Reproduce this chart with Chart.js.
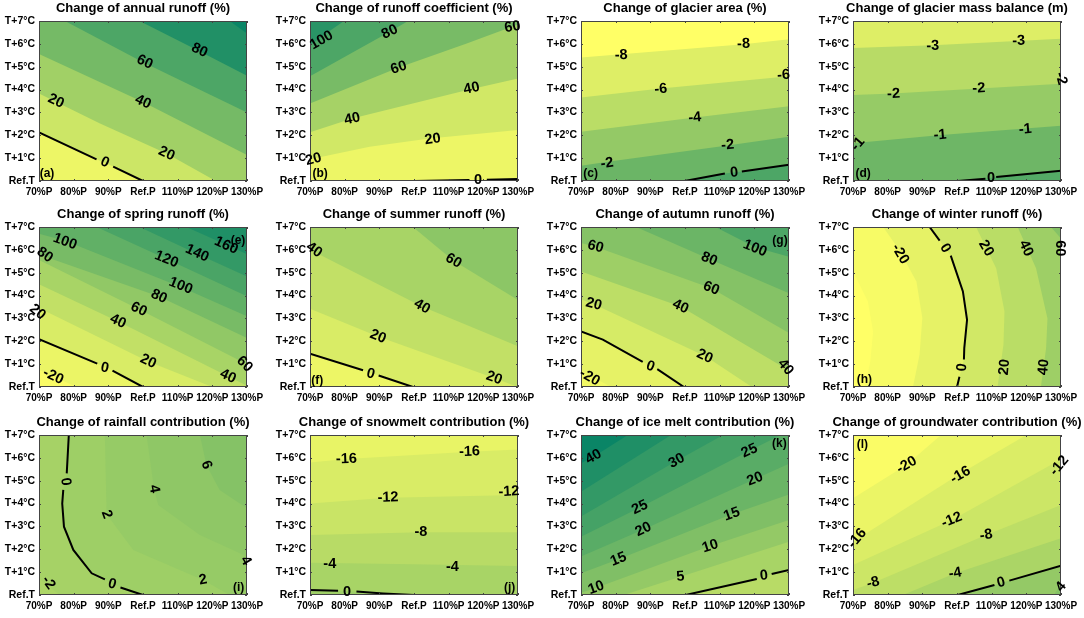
<!DOCTYPE html>
<html>
<head>
<meta charset="utf-8">
<script src="https://cdn.jsdelivr.net/npm/chart.js@4"></script>
<style>
  body { margin: 0; background: #fff; }
  canvas { position: absolute; }
</style>
</head>
<body>
<script>
const xTickLabels = ["70%P", "80%P", "90%P", "Ref.P", "110%P", "120%P", "130%P"];
const yTickLabels = ["Ref.T", "T+1°C", "T+2°C", "T+3°C", "T+4°C", "T+5°C", "T+6°C", "T+7°C"];

const titles = [
  "Change of annual runoff (%)", "Change of runoff coefficient (%)", "Change of glacier area (%)", "Change of glacier mass balance (m)",
  "Change of spring runoff (%)", "Change of summer runoff (%)", "Change of autumn runoff (%)", "Change of winter runoff (%)",
  "Change of rainfall contribution (%)", "Change of snowmelt contribution (%)", "Change of ice melt contribution (%)", "Change of groundwater contribution (%)"
];

// contour levels per panel, and each contour as [precip tick index, temp step]
// null = gap in the black zero line where its label sits
const annualLevels = [0, 20, 40, 60, 80, 100];
const annualLines = [
  [[0, 2.13], [1.66, 0.95], null, [2.14, 0.63], [3, 0]],
  [[0, 3.83], [1.76, 2.52], [3.68, 1.2], [5.1, 0]],
  [[0, 5.56], [3, 3.46], [6, 1.14]],
  [[0.75, 7], [3, 5.2], [6, 3]],
  [[2.9, 7], [4.6, 5.7], [6, 4.6]],
  [[5.5, 7], [6, 6.45]]
];
const annualLabels = [[0, 1.9, 0.82], [20, 0.49, 3.5], [20, 3.68, 1.2], [40, 3, 3.46], [60, 3.05, 5.2], [80, 4.63, 5.72]];

const coeffLevels = [0, 20, 40, 60, 80, 100];
const coeffLines = [
  [[3, 0], [4.6, 0.04], null, [5.1, 0.06], [6, 0.09]],
  [[0, 0.95], [1.72, 1.5], [3.44, 1.86], [6, 2.23]],
  [[0, 2.13], [1.24, 2.74], [4.6, 4], [6, 4.48]],
  [[0, 3.39], [2.54, 4.95], [4.5, 6], [6, 6.85]],
  [[0, 4.58], [2.3, 6.53], [2.83, 7]],
  [[0, 5.94], [0.38, 6.37], [0.98, 7]]
];
const coeffLabels = [[100, 0.33, 6.16], [80, 2.3, 6.52], [60, 2.56, 4.96], [60, 5.84, 6.74], [40, 1.22, 2.72], [40, 4.66, 4.05], [20, 3.54, 1.83], [20, 0.1, 0.95], [0, 4.85, 0.04]];

const areaLevels = [0, -2, -4, -6, -8];
const areaLines = [
  [[2.99, 0], [4.15, 0.33], null, [4.64, 0.42], [6, 0.71]],
  [[0, 0.67], [0.77, 0.84], [4.17, 1.54], [6, 1.94]],
  [[0, 2.15], [3.28, 2.78], [6, 3.27]],
  [[0, 3.65], [2.3, 4.05], [6, 4.58]],
  [[0, 5.4], [1.16, 5.55], [4.69, 5.98], [6, 6.2]]
];
const areaLabels = [[-8, 1.16, 5.5], [-8, 4.69, 6], [-6, 2.3, 4.02], [-6, 5.84, 4.63], [-4, 3.28, 2.77], [-2, 4.23, 1.57], [-2, 0.75, 0.77], [0, 4.42, 0.36]];

const massLevels = [0, -1, -2, -3];
const massLines = [
  [[3.02, 0], [3.82, 0.1], null, [4.13, 0.17], [6, 0.45]],
  [[0, 1.65], [2.54, 2.01], [6, 2.42]],
  [[0, 3.76], [1.15, 3.83], [3.65, 4.05], [6, 4.26]],
  [[0, 5.82], [2.3, 5.94], [6, 6.22]]
];
const massLabels = [[-3, 2.3, 5.91], [-3, 4.78, 6.13], [-2, 1.17, 3.81], [-2, 3.63, 4.05], [-2, 6, 4.48], [-1, 2.51, 2.01], [-1, 4.97, 2.26], [-1, 0.14, 1.62], [0, 3.98, 0.15]];

const springLevels = [-20, 0, 20, 40, 60, 80, 100, 120, 140, 160];
const springLines = [
  [[0, 0.76], [1.08, 0]],
  [[0, 2.09], [1.68, 1.02], null, [2.12, 0.72], [3, 0]],
  [[0, 3.46], [3.15, 1.12], [5, 0]],
  [[0, 4.5], [2.28, 2.87], [5.45, 0.47], [6, 0.05]],
  [[0, 5.56], [2.88, 3.4], [6, 1]],
  [[0, 5.8], [3.46, 3.96], [6, 2.14]],
  [[0, 6.7], [0.75, 6.4], [4.09, 4.37], [6, 3.09]],
  [[1.66, 7], [3.68, 5.6], [6, 3.97]],
  [[2.9, 7], [4.54, 5.84], [6, 4.83]],
  [[4.25, 7], [5.4, 6.22], [6, 5.81]]
];
const springLabels = [[100, 0.75, 6.36], [80, 0.17, 5.78], [20, -0.04, 3.28], [-20, 0.41, 0.47], [0, 1.9, 0.83], [20, 3.15, 1.12], [40, 2.28, 2.87], [60, 2.88, 3.4], [80, 3.46, 3.96], [100, 4.09, 4.43], [120, 3.68, 5.59], [140, 4.56, 5.85], [160, 5.4, 6.19], [40, 5.45, 0.47], [60, 5.93, 1]];

const summerLevels = [0, 20, 40, 60];
const summerLines = [
  [[0, 1.46], [1.53, 0.73], null, [1.98, 0.5], [2.97, 0]],
  [[0, 3.42], [1.96, 2.21], [5.31, 0.39], [6, 0]],
  [[0, 6], [3.23, 3.52], [6, 1.78]],
  [[2.97, 7], [4.14, 5.52], [6, 3.81]]
];
const summerLabels = [[40, 0.12, 6], [60, 4.14, 5.52], [40, 3.23, 3.52], [20, 1.96, 2.21], [0, 1.75, 0.57], [20, 5.31, 0.39]];

const autumnLevels = [-20, 0, 20, 40, 60, 80, 100];
const autumnLines = [
  [[0, 0.73], [0.39, 0.39], [0.87, 0]],
  [[0, 2.43], [0.63, 2.07], [1.78, 1.1], null, [2.2, 0.78], [2.97, 0]],
  [[0, 3.84], [0.37, 3.62], [3.59, 1.34], [4.93, 0]],
  [[0, 5.05], [2.87, 3.52], [4.74, 1.85], [5.88, 0.83], [6, 0.6]],
  [[0, 6.3], [0.42, 6.14], [3.76, 4.32], [6, 2.36]],
  [[1.59, 7], [3.7, 5.6], [6, 4.1]],
  [[3.88, 7], [5.02, 6.11], [6, 5.7]]
];
const autumnLabels = [[60, 0.42, 6.14], [100, 5.02, 6.07], [80, 3.7, 5.6], [60, 3.76, 4.32], [40, 2.87, 3.52], [20, 0.37, 3.62], [20, 3.57, 1.34], [0, 2, 0.9], [-20, 0.25, 0.42], [40, 5.9, 0.87]];

const winterLevels = [-40, -20, 0, 20, 40, 60];
const winterLines = [
  [[0, 5.05], [0.43, 3.74], [0.58, 2.43], [0.5, 1.12], [0.34, 0]],
  [[0.87, 7], [1.33, 6], [1.83, 4.62], [2, 3.02], [1.92, 1.42], [1.73, 0]],
  [[2.21, 7], [2.5, 6.4], null, [2.82, 5.75], [3.17, 4.18], [3.29, 2.94], [3.21, 1.7], [3.2, 1.2], null, [3.07, 0.45], [3, 0]],
  [[3.55, 7], [4.13, 5.2], [4.37, 3.3], [4.34, 1.85], [4.17, 0]],
  [[4.75, 7], [5.28, 5.2], [5.61, 3], [5.57, 1.7], [5.42, 0]],
  [[5.71, 7], [6, 6.5]]
];
const winterLabels = [[-20, 1.36, 5.82], [0, 2.66, 6.07], [20, 3.84, 6.07], [40, 4.99, 6.07], [60, 5.98, 6.07], [0, 3.15, 0.86], [20, 4.37, 0.87], [40, 5.5, 0.87]];

const rainLevels = [-2, 0, 2, 4, 6];
const rainLines = [
  [[0, 0.73], [0.6, 0]],
  [[0.86, 7], [0.8, 5.32], null, [0.7, 4.6], [0.67, 4], [0.72, 2.99], [0.99, 1.97], [1.52, 0.95], [1.9, 0.68], null, [2.35, 0.33], [3, 0]],
  [[1.9, 7], [1.95, 3.53], [2.72, 1.97], [4.73, 0.66], [5.5, 0]],
  [[3.1, 7], [3.32, 4.64], [3.44, 3.94], [4.64, 2.62], [6, 1.68]],
  [[4.64, 7], [4.83, 5.69], [5.21, 4.59], [6, 3.79]]
];
const rainLabels = [[0, 0.77, 4.96], [0, 2.11, 0.47], [2, 1.95, 3.53], [4, 3.32, 4.64], [6, 4.83, 5.69], [4, 5.96, 1.5], [2, 4.73, 0.66], [-2, 0.27, 0.54]];

const snowLevels = [0, -4, -8, -12, -16];
const snowLines = [
  [[0, 0.22], [0.81, 0.19], null, [1.34, 0.15], [2.11, 0.07], [3.01, 0]],
  [[0, 1.41], [3, 1.35], [6, 1.27]],
  [[0, 2.62], [3.2, 2.74], [6, 2.74]],
  [[0, 4], [2.25, 4.26], [6, 4.37]],
  [[0, 5.8], [1.05, 5.95], [4.6, 6.27], [6, 6.37]]
];
const snowLabels = [[-16, 1.05, 5.95], [-16, 4.6, 6.27], [-12, 2.25, 4.26], [-12, 5.74, 4.52], [-8, 3.2, 2.74], [-4, 0.57, 1.36], [-4, 4.11, 1.24], [0, 1.07, 0.15]];

const iceLevels = [0, 5, 10, 15, 20, 25, 30, 35, 40];
const iceLines = [
  [[3.02, 0], [5.07, 0.7], null, [5.5, 0.92], [6, 1.09]],
  [[1.23, 0], [2.87, 0.8], [6, 2.33]],
  [[0, 0.1], [0.44, 0.32], [3.73, 2.14], [6, 3.28]],
  [[0, 0.95], [1.08, 1.56], [4.35, 3.53], [6, 4.4]],
  [[0, 1.68], [1.8, 2.87], [5.02, 5.07], [6, 5.74]],
  [[0, 2.55], [1.7, 3.83], [4.86, 6.31], [5.76, 7]],
  [[0, 3.43], [2.76, 5.87], [4.1, 7]],
  [[0, 4.52], [2.6, 7]],
  [[0, 5.76], [0.36, 6.05], [1.35, 7]]
];
const iceLabels = [[40, 0.36, 6.05], [30, 2.76, 5.87], [25, 1.7, 3.83], [20, 1.8, 2.87], [15, 1.08, 1.56], [10, 0.44, 0.32], [25, 4.86, 6.31], [20, 5.02, 5.07], [15, 4.35, 3.53], [10, 3.73, 2.14], [5, 2.87, 0.8], [0, 5.28, 0.85]];

const groundLevels = [4, 0, -4, -8, -12, -16, -20];
const groundLines = [
  [[5.8, 0], [6, 0.5]],
  [[3.02, 0], [4.08, 0.44], null, [4.51, 0.63], [6, 1.28]],
  [[1.44, 0], [2.95, 0.95], [6, 2.48]],
  [[0, 0.22], [0.58, 0.54], [3.84, 2.62], [6, 3.94]],
  [[0, 1.31], [2.85, 3.28], [5.95, 5.9], [6, 5.95]],
  [[0, 2.33], [3.1, 5.32], [5, 7]],
  [[0, 4.23], [1.54, 5.69], [2.54, 7]]
];
const groundLabels = [[-20, 1.55, 5.69], [-16, 3.1, 5.25], [-12, 5.95, 5.66], [-12, 2.85, 3.28], [-8, 3.84, 2.62], [-8, 0.58, 0.54], [-16, 0.12, 2.48], [-4, 2.95, 0.95], [0, 4.27, 0.54], [4, 6, 0.36]];

// panel layout and look, kept away from the data above
const plotCols = [39, 310, 581, 853];
const plotRows = [21, 227, 435];
const plotW = 208, plotH = 160, axisW = 39, axisH = 18;
const fontName = '"Liberation Sans", Arial, sans-serif';

// position along the summer colormap per band, first = below the first contour
const tones = [
  [0.93, 0.8, 0.63, 0.46, 0.3, 0.13, 0.04],
  [0.97, 0.93, 0.82, 0.65, 0.47, 0.3, 0.16],
  [0.3, 0.42, 0.58, 0.73, 0.87, 1],
  [0.33, 0.43, 0.59, 0.72, 0.87],
  [0.98, 0.92, 0.85, 0.76, 0.66, 0.57, 0.47, 0.38, 0.29, 0.2, 0.12],
  [0.93, 0.85, 0.76, 0.66, 0.55],
  [0.95, 0.9, 0.84, 0.74, 0.62, 0.52, 0.42, 0.3],
  [1, 0.97, 0.9, 0.82, 0.73, 0.62, 0.52],
  [0.68, 0.65, 0.62, 0.59, 0.56, 0.52],
  [0.62, 0.66, 0.72, 0.79, 0.85, 0.91],
  [0.72, 0.66, 0.58, 0.5, 0.42, 0.35, 0.27, 0.2, 0.12, 0.04],
  [0.52, 0.58, 0.67, 0.74, 0.8, 0.86, 0.92, 0.98]
];
const labelAngles = [
  [25, 25, 25, 25, 25, 25],
  [-30, -25, -18, -10, -12, -12, -8, -15, 0],
  [-3, -3, -5, -5, -5, -5, -8, -5],
  [-2, -3, -3, -3, 75, -5, -5, -50, 0],
  [20, 35, 40, 25, 12, 25, 25, 25, 25, 22, 22, 25, 25, 25, 45],
  [35, 30, 30, 22, 15, 20],
  [15, 22, 22, 22, 25, 15, 25, 20, 30, 50],
  [60, 60, 60, 65, 90, -85, -85, -85],
  [85, 15, 70, 80, 70, 60, -10, 55],
  [-2, -2, -2, -3, 0, 0, 0, 0],
  [-30, -28, -25, -25, -22, -20, -25, -22, -20, -18, -5, -5],
  [-30, -30, -50, -22, -10, -15, -50, -10, -15, -50]
];
const panelTags = [
  ["(a)", 0.23, 0.3], ["(b)", 0.29, 0.3], ["(c)", 0.28, 0.3], ["(d)", 0.29, 0.3],
  ["(e)", 5.74, 6.4], ["(f)", 0.21, 0.29], ["(g)", 5.74, 6.4], ["(h)", 0.33, 0.32],
  ["(i)", 5.76, 0.32], ["(j)", 5.76, 0.32], ["(k)", 5.72, 6.63], ["(l)", 0.27, 6.56]
];

const allLevels = [annualLevels, coeffLevels, areaLevels, massLevels, springLevels, summerLevels, autumnLevels, winterLevels, rainLevels, snowLevels, iceLevels, groundLevels];
const allLines = [annualLines, coeffLines, areaLines, massLines, springLines, summerLines, autumnLines, winterLines, rainLines, snowLines, iceLines, groundLines];
const allLabels = [annualLabels, coeffLabels, areaLabels, massLabels, springLabels, summerLabels, autumnLabels, winterLabels, rainLabels, snowLabels, iceLabels, groundLabels];

const X_MAX = 6, Y_MAX = 7;

function summer(t) {
  return `rgb(${Math.round(t * 255)},${Math.round(127.5 + t * 127.5)},102)`;
}

// distance along the plot edge, counter-clockwise from the lower left corner
function edgePos(p) {
  if (p[1] === 0) return p[0];
  if (p[0] === X_MAX) return X_MAX + p[1];
  if (p[1] === Y_MAX) return X_MAX + Y_MAX + (X_MAX - p[0]);
  return 2 * X_MAX + Y_MAX + (Y_MAX - p[1]);
}

// close a contour along the plot edge, keeping the side left of its direction
function closeBand(line) {
  const pts = line.filter(Boolean);
  const perim = 2 * (X_MAX + Y_MAX);
  const corners = [[X_MAX, 0], [X_MAX, Y_MAX], [0, Y_MAX], [0, 0]];
  const from = edgePos(pts[pts.length - 1]);
  let to = edgePos(pts[0]);
  if (to < from) to += perim;
  const walk = [];
  for (let lap = 0; lap < 2; lap++) {
    corners.forEach(c => {
      const s = (c[0] === 0 && c[1] === 0 ? perim : edgePos(c)) + lap * perim;
      if (s > from && s < to) walk.push(c);
    });
  }
  return pts.concat(walk).map(p => ({ x: p[0], y: p[1] }));
}

function buildDatasets(i) {
  const sets = [];
  const base = [[0, 0], [X_MAX, 0], [X_MAX, Y_MAX], [0, Y_MAX]].map(p => ({ x: p[0], y: p[1] }));
  const bandSet = (data, tone, order) => ({
    data, order, showLine: true, fill: "shape", backgroundColor: summer(tone),
    borderWidth: 0, pointRadius: 0, tension: 0
  });
  sets.push(bandSet(base, tones[i][0], 100));
  allLines[i].forEach((line, k) => {
    sets.push(bandSet(closeBand(line), tones[i][k + 1], 99 - k));
  });
  allLines[i].forEach((line, k) => {
    if (allLevels[i][k] !== 0) return;
    sets.push({
      data: line.map(p => (p ? { x: p[0], y: p[1] } : { x: NaN, y: NaN })),
      order: 0, showLine: true, fill: false, borderColor: "#000", borderWidth: 2,
      pointRadius: 0, tension: 0, spanGaps: false
    });
  });
  return sets;
}

// box, inward ticks, contour labels and the panel tag
const overlayPlugin = {
  id: "overlay",
  afterDatasetsDraw(chart, args, opts) {
    const { ctx, chartArea: a, scales: { x, y } } = chart;
    ctx.save();
    ctx.strokeStyle = "#444";
    ctx.lineWidth = 1;
    ctx.strokeRect(a.left + 0.5, a.top + 0.5, a.width - 1, a.height - 1);
    ctx.beginPath();
    xTickLabels.forEach((t, v) => {
      const px = Math.round(x.getPixelForValue(v)) + 0.5;
      ctx.moveTo(px, a.bottom); ctx.lineTo(px, a.bottom - 2);
      ctx.moveTo(px, a.top); ctx.lineTo(px, a.top + 2);
    });
    yTickLabels.forEach((t, v) => {
      const py = Math.round(y.getPixelForValue(v)) + 0.5;
      ctx.moveTo(a.left, py); ctx.lineTo(a.left + 2, py);
      ctx.moveTo(a.right, py); ctx.lineTo(a.right - 2, py);
    });
    ctx.stroke();

    ctx.fillStyle = "#000";
    ctx.textAlign = "center";
    ctx.textBaseline = "middle";
    ctx.font = `bold 14.5px ${fontName}`;
    allLabels[opts.panel].forEach((l, k) => {
      ctx.save();
      ctx.translate(x.getPixelForValue(l[1]), y.getPixelForValue(l[2]));
      ctx.rotate(labelAngles[opts.panel][k] * Math.PI / 180);
      ctx.fillText(String(l[0]), 0, 0);
      ctx.restore();
    });
    const tag = panelTags[opts.panel];
    ctx.font = `bold 12px ${fontName}`;
    ctx.fillText(tag[0], x.getPixelForValue(tag[1]), y.getPixelForValue(tag[2]));
    ctx.restore();
  }
};

titles.forEach((title, i) => {
  const canvas = document.createElement("canvas");
  const col = i % 4, row = Math.floor(i / 4);
  canvas.style.left = (plotCols[col] - axisW) + "px";
  canvas.style.top = (plotRows[row] - 21) + "px";
  canvas.width = axisW + plotW + axisW;
  canvas.height = 21 + plotH + axisH;
  document.body.appendChild(canvas);

  new Chart(canvas.getContext("2d"), {
    type: "scatter",
    data: { datasets: buildDatasets(i) },
    plugins: [overlayPlugin],
    options: {
      responsive: false,
      animation: false,
      devicePixelRatio: 1,
      layout: { autoPadding: false },
      plugins: {
        legend: { display: false },
        tooltip: { enabled: false },
        overlay: { panel: i },
        title: {
          display: true,
          text: title,
          color: "#000",
          font: { family: fontName, size: 13, weight: "bold", lineHeight: 1.2 },
          padding: { top: 1, bottom: 4.4 }
        }
      },
      scales: {
        x: {
          type: "linear", min: 0, max: X_MAX,
          afterFit: s => { s.height = axisH; },
          grid: { display: false, drawTicks: false },
          border: { display: false },
          ticks: {
            stepSize: 1, autoSkip: false, maxRotation: 0, padding: 5, color: "#000",
            font: { family: fontName, size: 10, weight: "bold" },
            callback: v => xTickLabels[v]
          }
        },
        y: {
          type: "linear", min: 0, max: Y_MAX,
          afterFit: s => { s.width = axisW; },
          grid: { display: false, drawTicks: false },
          border: { display: false },
          ticks: {
            stepSize: 1, autoSkip: false, padding: 4, color: "#000",
            font: { family: fontName, size: 10.5, weight: "bold" },
            callback: v => yTickLabels[v]
          }
        },
        // empty right axis, keeps the plot centred under its title
        yRight: {
          type: "linear", position: "right", min: 0, max: Y_MAX,
          afterFit: s => { s.width = axisW; },
          grid: { display: false, drawTicks: false },
          border: { display: false },
          ticks: { callback: () => "" }
        }
      }
    }
  });
});
</script>
</body>
</html>
